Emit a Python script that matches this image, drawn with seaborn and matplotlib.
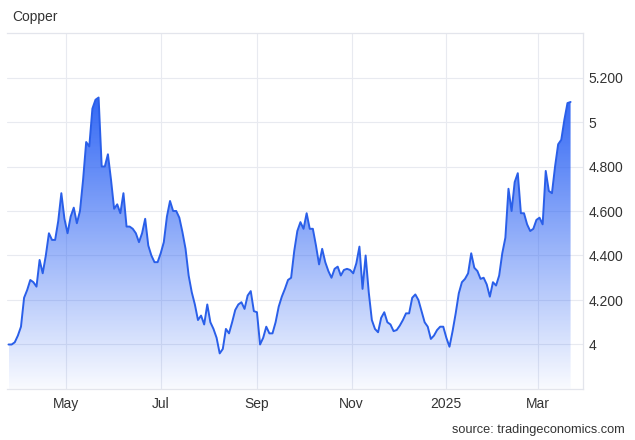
import matplotlib
matplotlib.use("Agg")
import matplotlib.pyplot as plt
import matplotlib.dates as mdates
import numpy as np
import pandas as pd
import seaborn as sns

START_DATE = "2024-03-25"
STEP = "2D"
PRICES = [
    4.00, 4.00, 4.01, 4.04, 4.08, 4.21, 4.245, 4.29, 4.28, 4.26,
    4.38, 4.32, 4.40, 4.50, 4.47, 4.47, 4.555, 4.68, 4.565, 4.50,
    4.575, 4.615, 4.545, 4.60, 4.74, 4.91, 4.89, 5.06, 5.10, 5.11,
    4.80, 4.80, 4.855, 4.74, 4.61, 4.63, 4.59, 4.68, 4.53, 4.53,
    4.52, 4.50, 4.46, 4.50, 4.565, 4.445, 4.40, 4.37, 4.37, 4.41,
    4.46, 4.575, 4.645, 4.60, 4.60, 4.57, 4.505, 4.43, 4.31, 4.235,
    4.18, 4.11, 4.13, 4.09, 4.18, 4.10, 4.07, 4.03, 3.96, 3.98,
    4.07, 4.05, 4.10, 4.155, 4.18, 4.19, 4.16, 4.22, 4.24, 4.15,
    4.145, 4.00, 4.03, 4.08, 4.05, 4.05, 4.10, 4.17, 4.215, 4.25,
    4.29, 4.30, 4.42, 4.51, 4.55, 4.52, 4.59, 4.52, 4.52, 4.445,
    4.36, 4.43, 4.37, 4.33, 4.30, 4.34, 4.35, 4.31, 4.335, 4.34,
    4.335, 4.32, 4.365, 4.44, 4.25, 4.40, 4.235, 4.11, 4.07, 4.055,
    4.12, 4.145, 4.10, 4.09, 4.06, 4.065, 4.085, 4.11, 4.14, 4.14,
    4.21, 4.225, 4.20, 4.15, 4.10, 4.08, 4.025, 4.04, 4.065, 4.08,
    4.08, 4.03, 3.99, 4.06, 4.14, 4.23, 4.28, 4.295, 4.32, 4.41,
    4.345, 4.33, 4.295, 4.30, 4.27, 4.215, 4.28, 4.265, 4.31, 4.41,
    4.48, 4.70, 4.60, 4.73, 4.77, 4.59, 4.59, 4.54, 4.51, 4.52,
    4.56, 4.57, 4.54, 4.78, 4.69, 4.68, 4.80, 4.90, 4.92, 5.01,
    5.085, 5.09,
]
Y_TICKS = [4.0, 4.2, 4.4, 4.6, 4.8, 5.0, 5.2]
Y_LABELS = ["4", "4.200", "4.400", "4.600", "4.800", "5", "5.200"]
X_TICKS = ["2024-05-01", "2024-07-01", "2024-09-01", "2024-11-01", "2025-01-01", "2025-03-01"]
X_LABELS = ["May", "Jul", "Sep", "Nov", "2025", "Mar"]

LINE = "#2a5fe9"
GRID = "#e8eaf0"
TEXT = "#333333"

sns.set_theme(style="white")
plt.rcParams["font.family"] = ["Liberation Sans", "DejaVu Sans"]

df = pd.DataFrame({
    "date": pd.date_range(START_DATE, periods=len(PRICES), freq=STEP),
    "price": PRICES,
})

fig = plt.figure(figsize=(6.35, 4.40), dpi=100)
ax = fig.add_axes([7 / 635, 1 - 389 / 440, 576 / 635, 356 / 440])

y_lo, y_hi = 3.80, 5.40
x_lo = df["date"].iloc[0] - pd.Timedelta(days=1)
x_hi = pd.Timestamp("2025-03-30")

# gradient fill under the curve, clipped to the area polygon
xn = mdates.date2num(df["date"])
poly = ax.fill_between(xn, df["price"], y_lo, color="none", lw=0)
top = df["price"].max()
rgba = np.zeros((256, 1, 4))
rgba[..., 0] = 0.16
rgba[..., 1] = 0.38
rgba[..., 2] = 0.96
rgba[..., 3] = np.linspace(0.03, 0.95, 256).reshape(-1, 1)
img = ax.imshow(rgba, aspect="auto", origin="lower",
                extent=[xn[0], xn[-1], y_lo, top], zorder=1)
img.set_clip_path(poly.get_paths()[0], transform=ax.transData)

sns.lineplot(data=df, x="date", y="price", ax=ax, color=LINE, lw=1.4, zorder=3)

ax.set_xlim(x_lo, x_hi)
ax.set_ylim(y_lo, y_hi)
ax.set_xlabel("")
ax.set_ylabel("")

ax.yaxis.tick_right()
ax.set_yticks(Y_TICKS)
ax.set_yticklabels(Y_LABELS)
ax.set_xticks(pd.to_datetime(X_TICKS))
ax.set_xticklabels(X_LABELS)
ax.tick_params(axis="y", length=0, pad=4, labelsize=10, labelcolor=TEXT)
ax.tick_params(axis="x", length=0, pad=6, labelsize=10, labelcolor=TEXT)

ax.grid(True, color=GRID, lw=0.8)
ax.set_axisbelow(True)
ax.spines["left"].set_visible(False)
for side in ["top", "right", "bottom"]:
    ax.spines[side].set_color("#e3e5ec")
    ax.spines[side].set_linewidth(0.9)

fig.text(12 / 635, 1 - 17 / 440, "Copper", fontsize=10, color=TEXT, va="center", ha="left")
fig.text(625 / 635, 1 - 430 / 440, "source: tradingeconomics.com", fontsize=9.2,
         color=TEXT, va="center", ha="right")

fig.savefig("out.png", dpi=100)
